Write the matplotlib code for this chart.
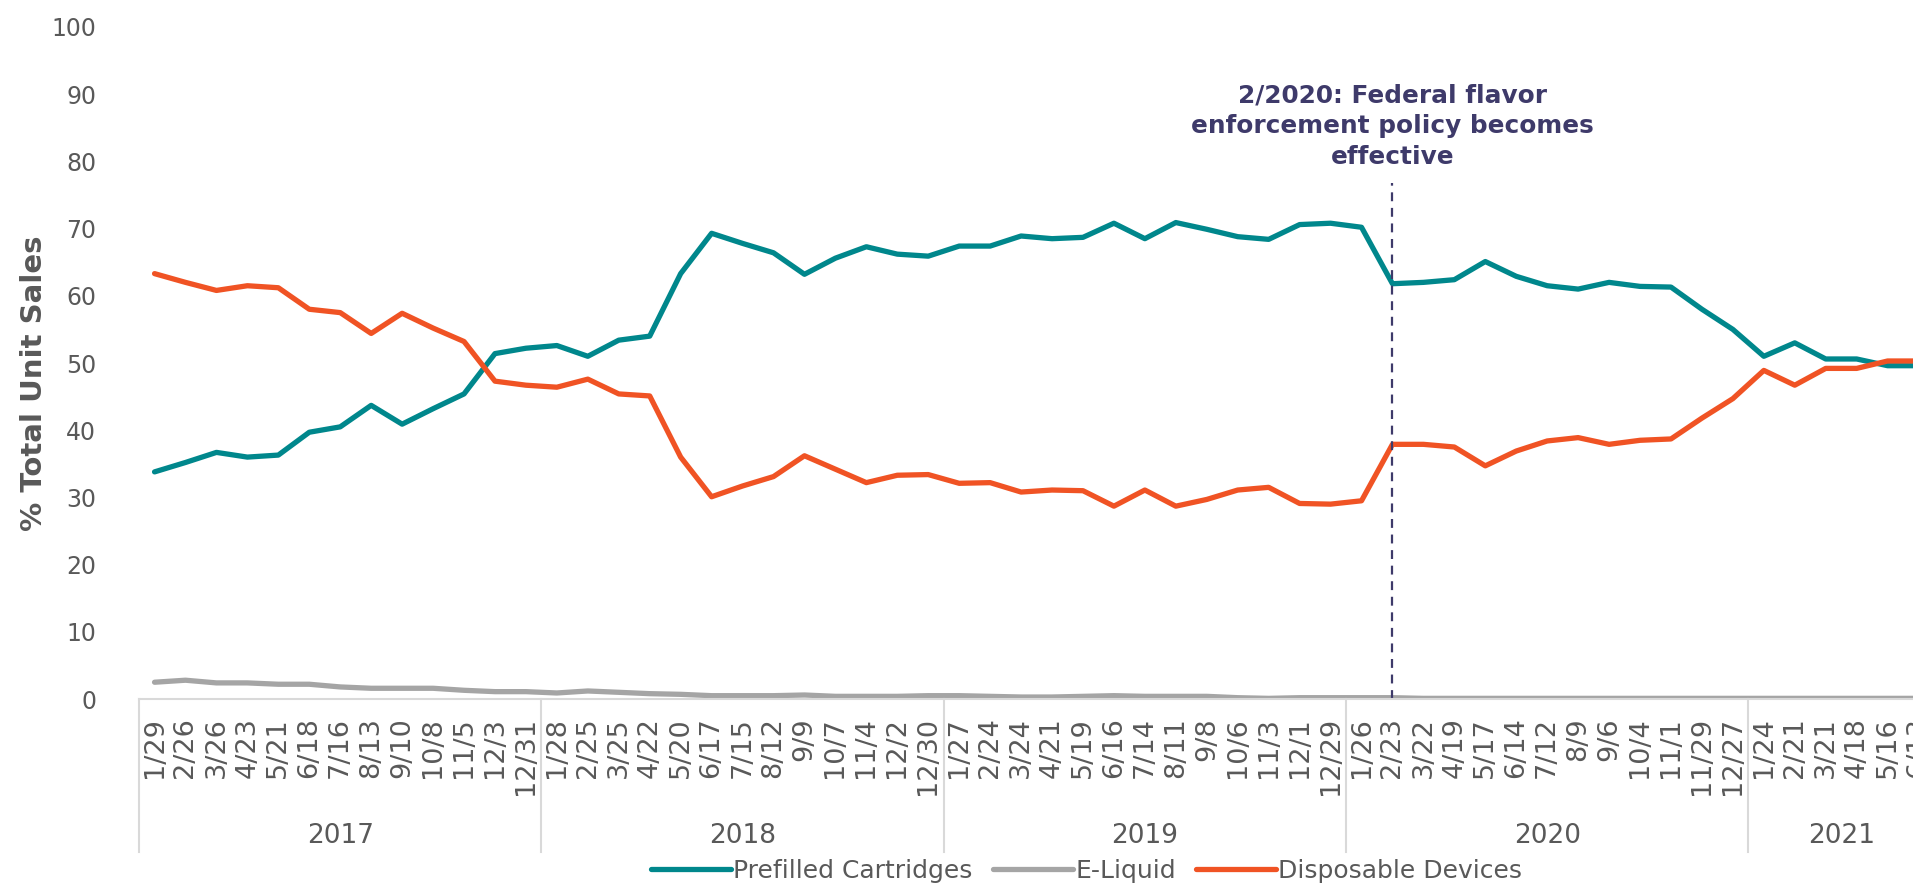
import matplotlib
matplotlib.use("Agg")
import matplotlib.pyplot as plt
import matplotlib.transforms as mtransforms

plt.rcParams['font.family'] = ['DejaVu Sans']

# 4週ごとの期間末日
dates_2017 = ["1/29", "2/26", "3/26", "4/23", "5/21", "6/18", "7/16", "8/13", "9/10", "10/8", "11/5", "12/3", "12/31"]
dates_2018 = ["1/28", "2/25", "3/25", "4/22", "5/20", "6/17", "7/15", "8/12", "9/9", "10/7", "11/4", "12/2", "12/30"]
dates_2019 = ["1/27", "2/24", "3/24", "4/21", "5/19", "6/16", "7/14", "8/11", "9/8", "10/6", "11/3", "12/1", "12/29"]
dates_2020 = ["1/26", "2/23", "3/22", "4/19", "5/17", "6/14", "7/12", "8/9", "9/6", "10/4", "11/1", "11/29", "12/27"]
dates_2021 = ["1/24", "2/21", "3/21", "4/18", "5/16", "6/13"]
years = ["2017", "2018", "2019", "2020", "2021"]
year_dates = [dates_2017, dates_2018, dates_2019, dates_2020, dates_2021]

prefilled = [33.8, 35.2, 36.7, 36.0, 36.3, 39.7, 40.5, 43.7, 40.9, 43.2, 45.4, 51.4, 52.2,
             52.6, 51.0, 53.4, 54.0, 63.3, 69.3, 67.8, 66.4, 63.2, 65.6, 67.3, 66.2, 65.9,
             67.4, 67.4, 68.9, 68.5, 68.7, 70.8, 68.5, 70.9, 69.9, 68.8, 68.4, 70.6, 70.8,
             70.2, 61.8, 62.0, 62.4, 65.1, 62.9, 61.5, 61.0, 62.0, 61.4, 61.3, 58.0, 55.0,
             51.0, 53.0, 50.6, 50.6, 49.6, 49.6]
eliquid = [2.5, 2.8, 2.4, 2.4, 2.2, 2.2, 1.8, 1.6, 1.6, 1.6, 1.3, 1.1, 1.1,
           0.9, 1.2, 1.0, 0.8, 0.7, 0.5, 0.5, 0.5, 0.6, 0.4, 0.4, 0.4, 0.5,
           0.5, 0.4, 0.3, 0.3, 0.4, 0.5, 0.4, 0.4, 0.4, 0.2, 0.1, 0.2, 0.2,
           0.2, 0.2, 0.1, 0.1, 0.1, 0.1, 0.1, 0.1, 0.1, 0.1, 0.1, 0.1, 0.1,
           0.1, 0.1, 0.1, 0.1, 0.1, 0.1]
disposable = [63.3, 62.0, 60.8, 61.5, 61.2, 58.0, 57.5, 54.4, 57.4, 55.2, 53.2, 47.3, 46.7,
              46.4, 47.6, 45.4, 45.1, 36.0, 30.1, 31.7, 33.1, 36.2, 34.2, 32.2, 33.3, 33.4,
              32.1, 32.2, 30.8, 31.1, 31.0, 28.7, 31.1, 28.7, 29.7, 31.1, 31.5, 29.1, 29.0,
              29.5, 37.9, 37.9, 37.5, 34.7, 36.9, 38.4, 38.9, 37.9, 38.5, 38.7, 41.8, 44.7,
              48.9, 46.7, 49.2, 49.2, 50.3, 50.3]

event_date = "2/23"
event_year = "2020"
event_text = "2/2020: Federal flavor\nenforcement policy becomes\neffective"

labels = [d for ds in year_dates for d in ds]
x = list(range(len(labels)))

teal = '#00878C'
gray = '#A5A5A5'
orange = '#F05324'
navy = '#3E3A6A'
txt = '#595959'

fig = plt.figure(figsize=(19.13, 8.88), dpi=100)
ax = fig.add_axes([0.0727, 0.2128, 0.9383, 0.7568])

ax.plot(x, prefilled, color=teal, lw=3.8, label='Prefilled Cartridges', solid_capstyle='round')
ax.plot(x, eliquid, color=gray, lw=3.8, label='E-Liquid', solid_capstyle='round')
ax.plot(x, disposable, color=orange, lw=3.8, label='Disposable Devices', solid_capstyle='round')

# 規制開始の縦線
ex = years.index(event_year)
ev = sum(len(ds) for ds in year_dates[:ex]) + year_dates[ex].index(event_date)
ax.plot([ev, ev], [0, 76.8], color=navy, lw=1.6, ls=(0, (4, 3)))
ax.text(ev, 85.2, event_text, ha='center', va='center', fontsize=17.8, fontweight='bold',
        color=navy, linespacing=1.35)

ax.set_xlim(-0.5, len(labels) - 0.5)
ax.set_ylim(0, 100)
ax.set_yticks(range(0, 101, 10))
ax.tick_params(axis='y', length=0, pad=31, labelsize=17, labelcolor=txt)
ax.set_xticks(x)
ax.set_xticklabels(labels, rotation=90, fontsize=19.5, color=txt, va='top')
ax.tick_params(axis='x', length=0, pad=13)
ax.set_ylabel('% Total Unit Sales', fontsize=21, fontweight='bold', color=txt)
ax.yaxis.set_label_coords(-0.0505, 0.47)

for s in ['top', 'right', 'left']:
    ax.spines[s].set_visible(False)
ax.spines['bottom'].set_color('#D9D9D9')
ax.spines['bottom'].set_linewidth(1.5)

# 年ごとの区切りと年ラベル
trans = mtransforms.blended_transform_factory(ax.transData, ax.transAxes)
start = 0
for yr, ds in zip(years, year_dates):
    ax.plot([start - 0.5, start - 0.5], [0, -0.228], color='#D9D9D9', lw=1.5,
            transform=trans, clip_on=False)
    ax.text(start + (len(ds) - 1) / 2, -0.204, yr, transform=trans, ha='center', va='center',
            fontsize=19, color=txt)
    start += len(ds)

leg = fig.legend(loc='center', bbox_to_anchor=(0.568, 0.019), ncol=3, frameon=False,
                 fontsize=18, handlelength=3.2, handletextpad=0.1, columnspacing=0.8)
for t in leg.get_texts():
    t.set_color(txt)

fig.savefig('out.png', dpi=100)
